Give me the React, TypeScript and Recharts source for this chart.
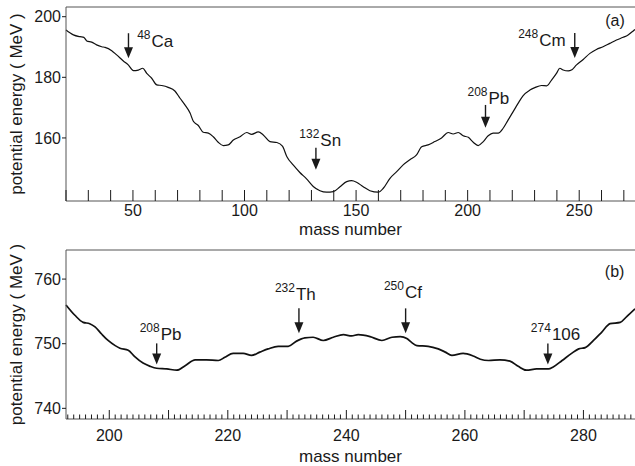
import React from "react";
import { LineChart, Line, XAxis, YAxis, ReferenceLine, ReferenceDot } from "recharts";

// panel (a): potential energy vs mass number
const massTop = [
  20, 23.3, 26.3, 28, 29.3, 31.5, 33.7, 36, 37.5, 40.5, 42.7, 45.7, 47.9, 50.2, 52.4,
  54.4, 56.2, 58.4, 60.7, 62.9, 65.8, 68.8, 71.1, 73.3, 75.6, 77, 79.3, 81.5, 83.8, 86,
  88.2, 90.5, 92.7, 95, 98, 101, 103.2, 106.2, 108.4, 111.4, 114.5, 117, 119, 121.9,
  124.8, 127.8, 130.8, 133.8, 136.8, 139.8, 142.8, 145.8, 148, 150.2, 153.2, 156.2,
  159.9, 162.2, 165.2, 168.2, 171.1, 174.1, 177.1, 179.4, 182.3, 185.3, 188.3, 191.3,
  193.5, 195.8, 198, 200.3, 202.5, 204.7, 207, 209.2, 211.4, 213.7, 215.9, 218.1, 220.4,
  222.6, 224.8, 227.9, 230.1, 233.1, 235.4, 237.6, 239.8, 241.3, 242.8, 245.1, 246.5,
  248.8, 251.8, 254.8, 257.7, 260.7, 263.7, 266.7, 269.7, 271.9, 274.2, 275,
];
const energyTop = [
  195.6, 194.0, 193.4, 193.2, 192.0, 191.6, 190.7, 190.1, 189.9, 188.8, 187.4, 185.4,
  184.1, 182.2, 182.4, 183.0, 181.3, 179.7, 177.5, 177.3, 176.7, 175.5, 173.1, 170.9,
  168.2, 165.6, 164.1, 161.9, 161.6, 160.4, 158.6, 157.5, 157.7, 159.3, 160.4, 161.8,
  161.2, 162.0, 161.0, 158.8, 158.5, 157.3, 153.8, 151.0, 148.6, 146.5, 144.0, 142.6,
  142.1, 142.3, 143.9, 145.6, 145.9, 145.4, 143.9, 142.6, 142.1, 143.4, 146.7, 148.9,
  151.1, 152.8, 154.4, 157.1, 157.7, 158.8, 160.0, 161.8, 161.3, 161.8, 160.7, 160.2,
  158.6, 157.5, 158.8, 160.7, 161.6, 161.6, 163.2, 165.9, 168.7, 171.4, 173.9, 175.8,
  176.6, 177.3, 177.2, 179.1, 181.3, 183.0, 182.4, 182.1, 182.4, 184.1, 185.9, 187.9,
  189.2, 190.1, 191.2, 192.3, 193.2, 194.0, 195.3, 195.8,
];

// panel (b)
const massBottom = [
  192.7, 194.2, 195.6, 196.7, 197.6, 198.7, 199.8, 201.0, 201.8, 203.2, 204.3, 205.7,
  206.9, 208.0, 209.7, 211.4, 212.8, 214.5, 216.4, 218.4, 219.5, 220.9, 222.6, 224.0,
  225.4, 226.8, 228.5, 230.2, 231.6, 233.0, 234.4, 236.1, 237.8, 239.5, 240.9, 242.0,
  244.0, 246.0, 247.7, 249.1, 250.2, 251.0, 251.9, 253.8, 255.5, 256.7, 257.8, 259.7,
  261.4, 262.6, 264.0, 265.9, 267.6, 269.0, 270.4, 272.1, 274.1, 274.9, 276.4, 278.0,
  279.2, 280.3, 281.7, 283.1, 284.5, 286.2, 287.3, 288.7,
];
const energyBottom = [
  756.0, 754.4, 753.3, 753.1, 752.6, 751.5, 750.5, 749.7, 749.3, 749.0, 748.0, 747.0,
  746.5, 746.2, 746.1, 745.9, 746.6, 747.5, 747.5, 747.4, 747.9, 748.5, 748.5, 748.2,
  748.7, 749.2, 749.6, 749.6, 750.4, 750.9, 751.0, 750.5, 751.0, 751.4, 751.2, 751.4,
  751.1, 750.5, 751.0, 751.1, 750.8, 750.2, 749.7, 749.6, 749.2, 748.7, 748.2, 748.5,
  748.1, 747.6, 747.4, 747.5, 747.3, 746.5, 745.9, 746.1, 746.1, 746.4, 747.4, 748.5,
  749.2, 749.4, 750.5, 751.8, 753.1, 753.3, 754.2, 755.4,
];

// axis ticks
const topTicks = [20, 30, 40, 50, 60, 70, 80, 90, 100, 110, 120, 130, 140, 150, 160, 170, 180, 190, 200, 210, 220, 230, 240, 250, 260, 270];
const topTickLabels = [50, 100, 150, 200, 250];
const topYTicks = [160, 180, 200];
const bottomTicks = Array.from({ length: 96 }, (_, i) => 193 + i);
const bottomMajorTicks = [200, 210, 220, 230, 240, 250, 260, 270, 280];
const bottomTickLabels = [200, 220, 240, 260, 280];
const bottomYTicks = [740, 750, 760];

// marked nuclei
const topMarkMass = [48, 132, 208, 248];
const topMarkTip = [186.3, 149.5, 163.4, 186.4];
const topMarkSup = ["48", "132", "208", "248"];
const topMarkSym = ["Ca", "Sn", "Pb", "Cm"];
const bottomMarkMass = [208, 232, 250, 274];
const bottomMarkTip = [746.8, 751.6, 751.6, 746.8];
const bottomMarkSup = ["208", "232", "250", "274"];
const bottomMarkSym = ["Pb", "Th", "Cf", "106"];

// arrow length and label offsets (px) per mark
const topMarkLayout = [
  { len: 25, dx: 8.7, dy: 14 },
  { len: 22, dx: -16.6, dy: -2 },
  { len: 22.7, dx: -18, dy: -1 },
  { len: 25, dx: -56.6, dy: 13 },
];
const bottomMarkLayout = [
  { len: 21, dx: -17, dy: -3 },
  { len: 25, dx: -24, dy: -8 },
  { len: 25, dx: -21.7, dy: -10 },
  { len: 21, dx: -17, dy: -3 },
];

const topData = massTop.map((m, i) => ({ mass: m, energy: energyTop[i] }));
const bottomData = massBottom.map((m, i) => ({ mass: m, energy: energyBottom[i] }));

const FONT = "'Liberation Sans', Arial, Helvetica, sans-serif";
const AXIS = "#555";
const INK = "#1a1a1a";

function ArrowMark({ cx, cy, len, dx, dy, sup, sym }: any) {
  const tailY = cy - len;
  return (
    <g>
      <line x1={cx} y1={tailY} x2={cx} y2={cy - 9} stroke={INK} strokeWidth={1.4} />
      <polygon points={`${cx - 4.5},${cy - 11} ${cx + 4.5},${cy - 11} ${cx},${cy}`} fill={INK} />
      <text x={cx + dx} y={tailY + dy} fill={INK} fontSize={17} fontFamily={FONT}>
        <tspan fontSize={12} dy={-8}>{sup}</tspan>
        <tspan dx={1} dy={8}>{sym}</tspan>
      </text>
    </g>
  );
}

function makeXTick(labels: number[], major: number[] | null, majorLen: number, minorLen: number, labelGap: number) {
  return (props: any) => {
    const { x, y, payload } = props;
    const v = payload.value;
    const len = major === null || major.includes(v) ? majorLen : minorLen;
    return (
      <g>
        <line x1={x} y1={y} x2={x} y2={y - len} stroke={INK} strokeWidth={1} />
        {labels.includes(v) && (
          <text x={x} y={y + labelGap} textAnchor="middle" fontSize={16} fill={INK} fontFamily={FONT}>
            {v}
          </text>
        )}
      </g>
    );
  };
}

function YTick(props: any) {
  const { x, y, payload } = props;
  return (
    <g>
      <line x1={x - 4} y1={y} x2={x} y2={y} stroke={INK} strokeWidth={1} />
      <text x={x - 5} y={y} dy="0.35em" textAnchor="end" fontSize={16} fill={INK} fontFamily={FONT}>
        {payload.value}
      </text>
    </g>
  );
}

function PanelTag({ cx, cy, text, dy }: any) {
  return (
    <text x={cx - 10} y={cy + dy} textAnchor="end" fontSize={16} fill={INK} fontFamily={FONT}>
      {text}
    </text>
  );
}

export default function App() {
  const topYMax = 203.2;
  const bottomYMax = 764.5;
  return (
    <div style={{ position: "absolute", left: 0, top: 0, width: 635, height: 466, background: "#fff", fontFamily: FONT }}>
      <LineChart width={635} height={240} data={topData} margin={{ top: 7, right: 0, bottom: 0, left: 0 }}>
        <XAxis
          dataKey="mass"
          type="number"
          domain={[20, 275]}
          ticks={topTicks}
          interval={0}
          height={39}
          tickSize={0}
          tickMargin={0}
          tickLine={false}
          stroke={AXIS}
          tick={makeXTick(topTickLabels, null, 11, 11, 15)}
          label={{ value: "mass number", position: "insideBottom", offset: 5, fontSize: 17, fill: INK }}
        />
        <YAxis
          type="number"
          domain={[139.2, topYMax]}
          ticks={topYTicks}
          interval={0}
          width={66}
          allowDataOverflow
          tickSize={0}
          tickMargin={0}
          tickLine={false}
          stroke={AXIS}
          tick={YTick}
          label={{ value: "potential energy ( MeV )", angle: -90, position: "insideLeft", offset: 16, fontSize: 17, fill: INK, style: { textAnchor: "middle" } }}
        />
        <ReferenceLine y={topYMax} stroke={AXIS} strokeWidth={1} />
        <Line type="monotone" dataKey="energy" stroke="#111" strokeWidth={1.2} dot={false} isAnimationActive={false} />
        {topMarkMass.map((m, i) => (
          <ReferenceDot
            key={m}
            x={m}
            y={topMarkTip[i]}
            shape={(p: any) => (
              <ArrowMark cx={p.cx} cy={p.cy} {...topMarkLayout[i]} sup={topMarkSup[i]} sym={topMarkSym[i]} />
            )}
          />
        ))}
        <ReferenceDot x={274.9} y={203.1} shape={(p: any) => <PanelTag cx={p.cx} cy={p.cy} text="(a)" dy={19} />} />
      </LineChart>
      <LineChart width={635} height={226} data={bottomData} margin={{ top: 10, right: 0, bottom: 0, left: 0 }}>
        <XAxis
          dataKey="mass"
          type="number"
          domain={[192.7, 288.7]}
          ticks={bottomTicks}
          interval={0}
          height={47}
          tickSize={0}
          tickMargin={0}
          tickLine={false}
          stroke={AXIS}
          tick={makeXTick(bottomTickLabels, bottomMajorTicks, 9, 4.5, 22)}
          label={{ value: "mass number", position: "insideBottom", offset: 4, fontSize: 17, fill: INK }}
        />
        <YAxis
          type="number"
          domain={[738.35, bottomYMax]}
          ticks={bottomYTicks}
          interval={0}
          width={66}
          allowDataOverflow
          tickSize={0}
          tickMargin={0}
          tickLine={false}
          stroke={AXIS}
          tick={YTick}
          label={{ value: "potential energy ( MeV )", angle: -90, position: "insideLeft", offset: 16, fontSize: 17, fill: INK, style: { textAnchor: "middle" } }}
        />
        <ReferenceLine y={bottomYMax} stroke={AXIS} strokeWidth={1} />
        <Line type="monotone" dataKey="energy" stroke="#111" strokeWidth={1.7} dot={false} isAnimationActive={false} />
        {bottomMarkMass.map((m, i) => (
          <ReferenceDot
            key={m}
            x={m}
            y={bottomMarkTip[i]}
            shape={(p: any) => (
              <ArrowMark cx={p.cx} cy={p.cy} {...bottomMarkLayout[i]} sup={bottomMarkSup[i]} sym={bottomMarkSym[i]} />
            )}
          />
        ))}
        <ReferenceDot x={288.6} y={764.4} shape={(p: any) => <PanelTag cx={p.cx} cy={p.cy} text="(b)" dy={26} />} />
      </LineChart>
    </div>
  );
}
